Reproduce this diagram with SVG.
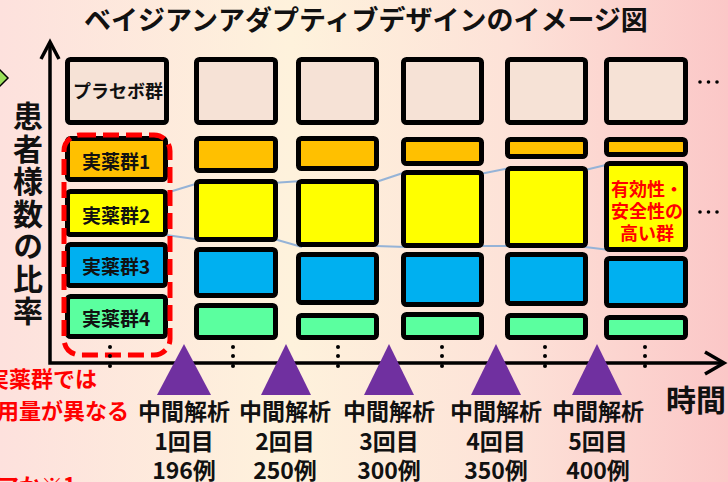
<svg xmlns="http://www.w3.org/2000/svg" width="728" height="482" viewBox="0 0 728 482">
<defs>
<linearGradient id="bg" x1="0" y1="0" x2="1" y2="0">
<stop offset="0" stop-color="#fde1dd"/>
<stop offset="0.4" stop-color="#fef2dc"/>
<stop offset="0.7" stop-color="#fde2d8"/>
<stop offset="1" stop-color="#fbc7c7"/>
</linearGradient>
<style>
text{font-family:"Noto Sans CJK JP","Noto Sans CJK SC",sans-serif;font-weight:bold;fill:#111}
.box{stroke:#000;stroke-width:5;stroke-linejoin:round}
.pl{fill:#f6e2d6}
.or{fill:#ffc000}
.ye{fill:#ffff00}
.bl{fill:#00b0f0}
.gr{fill:#5bff9f}
.lbl{font-size:19px;text-anchor:middle}
.red{fill:#ff0000}
.conn{stroke:#95b3d7;stroke-width:2;fill:none}
.axis{stroke:#000;stroke-width:3.5;fill:none}
.tri{fill:#7030a0}
.ia{font-size:23px;text-anchor:middle}
.dot{fill:#000}
</style>
</defs>
<rect x="0" y="0" width="728" height="482" fill="url(#bg)"/>

<text x="366" y="30" font-size="27" text-anchor="middle">ベイジアンアダプティブデザインのイメージ図</text>

<polygon points="-8,78 0,70 8,78 0,86" fill="#9be05a" stroke="#000" stroke-width="1.5"/>

<g id="yaxis-label">
<text x="28" y="101" font-size="30" letter-spacing="2.5" style="writing-mode:vertical-rl">患者様数の比率</text>
</g>

<g id="axes">
<polyline class="axis" points="50,42 50,363 723,363"/>
<polyline class="axis" points="41,59 50,42 59,59"/>
<polyline class="axis" points="705,352 724,363 705,374"/>
</g>

<g id="connectors">
<line class="conn" x1="166" y1="193" x2="202" y2="182"/>
<line class="conn" x1="166" y1="235" x2="202" y2="240"/>
<line class="conn" x1="272" y1="183" x2="302" y2="181"/>
<line class="conn" x1="274" y1="239" x2="302" y2="247"/>
<line class="conn" x1="376" y1="182" x2="406" y2="172"/>
<line class="conn" x1="376" y1="246" x2="406" y2="247"/>
<line class="conn" x1="480" y1="174" x2="510" y2="168"/>
<line class="conn" x1="480" y1="246" x2="510" y2="246"/>
<line class="conn" x1="585" y1="170" x2="610" y2="164"/>
<line class="conn" x1="585" y1="247" x2="610" y2="250"/>
</g>

<g id="col1">
<g id="placebo"><rect class="box pl" x="67.5" y="59.5" width="99" height="63" rx="3"/><text x="118" y="98" font-size="18" text-anchor="middle">プラセボ群</text></g>
<g id="arm1"><rect class="box or" x="67.5" y="138.5" width="98" height="41" rx="3"/><text class="lbl" x="116" y="169">実薬群1</text></g>
<g id="arm2"><rect class="box ye" x="67.5" y="191.5" width="98" height="43" rx="3"/><text class="lbl" x="116" y="223">実薬群2</text></g>
<g id="arm3"><rect class="box bl" x="67.5" y="244.5" width="98" height="41" rx="3"/><text class="lbl" x="116" y="274">実薬群3</text></g>
<g id="arm4"><rect class="box gr" x="67.5" y="296.5" width="98" height="40" rx="3"/><text class="lbl" x="116" y="326">実薬群4</text></g>
<rect x="64" y="135" width="106" height="220" rx="16" fill="none" stroke="#ff0000" stroke-width="5" stroke-dasharray="16 7"/>
</g>

<g id="col2">
<rect class="box pl" x="196.5" y="59.5" width="79" height="63" rx="3"/>
<rect class="box or" x="196.5" y="138.5" width="79" height="32" rx="3"/>
<rect class="box ye" x="196.5" y="181.5" width="79" height="58" rx="3"/>
<rect class="box bl" x="196.5" y="249.5" width="79" height="46" rx="3"/>
<rect class="box gr" x="196.5" y="305.5" width="79" height="32" rx="3"/>
</g>

<g id="col3">
<rect class="box pl" x="298.5" y="59.5" width="78" height="63" rx="3"/>
<rect class="box or" x="298.5" y="138.5" width="78" height="30" rx="3"/>
<rect class="box ye" x="298.5" y="181.5" width="78" height="63" rx="3"/>
<rect class="box bl" x="298.5" y="254.5" width="78" height="48" rx="3"/>
<rect class="box gr" x="298.5" y="315.5" width="78" height="22" rx="3"/>
</g>

<g id="col4">
<rect class="box pl" x="403.5" y="59.5" width="78" height="63" rx="3"/>
<rect class="box or" x="403.5" y="139.5" width="78" height="24" rx="3"/>
<rect class="box ye" x="403.5" y="172.5" width="78" height="73" rx="3"/>
<rect class="box bl" x="403.5" y="254.5" width="78" height="50" rx="3"/>
<rect class="box gr" x="403.5" y="314.5" width="78" height="23" rx="3"/>
</g>

<g id="col5">
<rect class="box pl" x="507.5" y="59.5" width="78" height="63" rx="3"/>
<rect class="box or" x="507.5" y="139.5" width="78" height="17" rx="3"/>
<rect class="box ye" x="507.5" y="168.5" width="78" height="77" rx="3"/>
<rect class="box bl" x="507.5" y="254.5" width="78" height="49" rx="3"/>
<rect class="box gr" x="507.5" y="315.5" width="78" height="22" rx="3"/>
</g>

<g id="col6">
<rect class="box pl" x="606.5" y="59.5" width="79" height="63" rx="3"/>
<rect class="box or" x="606.5" y="139.5" width="79" height="15" rx="3"/>
<g id="best"><rect class="box ye" x="606.5" y="163.5" width="79" height="86" rx="3"/>
<text class="red" font-size="18" text-anchor="middle"><tspan x="647" y="196">有効性・</tspan><tspan x="647" y="218">安全性の</tspan><tspan x="647" y="240">高い群</tspan></text></g>
<rect class="box bl" x="606.5" y="258.5" width="79" height="47" rx="3"/>
<rect class="box gr" x="606.5" y="317.5" width="79" height="20" rx="3"/>
</g>

<g id="ellipses">
<circle class="dot" cx="700" cy="82" r="1.8"/><circle class="dot" cx="708.5" cy="82" r="1.8"/><circle class="dot" cx="717" cy="82" r="1.8"/>
<circle class="dot" cx="700" cy="212" r="1.8"/><circle class="dot" cx="708.5" cy="212" r="1.8"/><circle class="dot" cx="717" cy="212" r="1.8"/>
<g>
<circle class="dot" cx="110" cy="347" r="2"/><circle class="dot" cx="110" cy="356" r="2"/><circle class="dot" cx="110" cy="366" r="2"/>
<circle class="dot" cx="233" cy="347" r="2"/><circle class="dot" cx="233" cy="356" r="2"/><circle class="dot" cx="233" cy="366" r="2"/>
<circle class="dot" cx="338" cy="347" r="2"/><circle class="dot" cx="338" cy="356" r="2"/><circle class="dot" cx="338" cy="366" r="2"/>
<circle class="dot" cx="442" cy="347" r="2"/><circle class="dot" cx="442" cy="356" r="2"/><circle class="dot" cx="442" cy="366" r="2"/>
<circle class="dot" cx="545" cy="347" r="2"/><circle class="dot" cx="545" cy="356" r="2"/><circle class="dot" cx="545" cy="366" r="2"/>
<circle class="dot" cx="645" cy="347" r="2"/><circle class="dot" cx="645" cy="356" r="2"/><circle class="dot" cx="645" cy="366" r="2"/>
</g>
</g>

<g id="ia1"><polygon class="tri" points="184,344 157,395 211,395"/><text class="ia"><tspan x="184" y="420">中間解析</tspan><tspan x="184" y="450">1回目</tspan><tspan x="184" y="479">196例</tspan></text></g>
<g id="ia2"><polygon class="tri" points="286,344 261,395 311,395"/><text class="ia"><tspan x="285" y="420">中間解析</tspan><tspan x="285" y="450">2回目</tspan><tspan x="285" y="479">250例</tspan></text></g>
<g id="ia3"><polygon class="tri" points="389,344 364,395 414,395"/><text class="ia"><tspan x="389" y="420">中間解析</tspan><tspan x="389" y="450">3回目</tspan><tspan x="389" y="479">300例</tspan></text></g>
<g id="ia4"><polygon class="tri" points="496,344 471,395 521,395"/><text class="ia"><tspan x="496" y="420">中間解析</tspan><tspan x="496" y="450">4回目</tspan><tspan x="496" y="479">350例</tspan></text></g>
<g id="ia5"><polygon class="tri" points="597,344 572,395 622,395"/><text class="ia"><tspan x="598" y="420">中間解析</tspan><tspan x="598" y="450">5回目</tspan><tspan x="598" y="479">400例</tspan></text></g>

<text x="696" y="411" font-size="30" text-anchor="middle">時間</text>

<text class="red" font-size="22" text-anchor="end"><tspan x="97" y="387">実薬群では</tspan><tspan x="129" y="419">用量が異なる</tspan></text>
<text class="red" x="76" y="494" font-size="22" text-anchor="end">アか※1</text>
</svg>
